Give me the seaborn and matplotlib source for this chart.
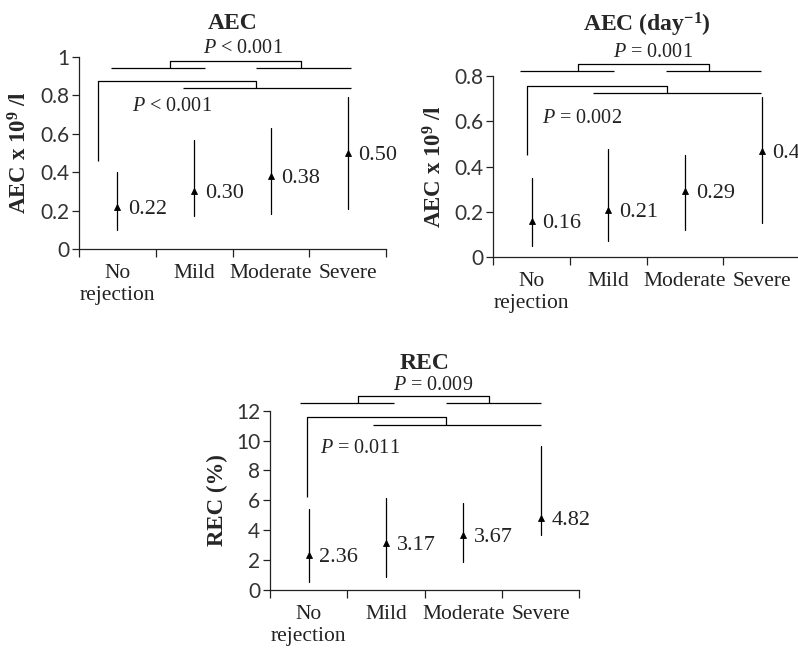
import numpy as np
import pandas as pd
import matplotlib
matplotlib.use("Agg")
import matplotlib.pyplot as plt
import seaborn as sns
from matplotlib.ticker import FixedLocator, FuncFormatter

# data: mean marker, lower and upper whisker per group
categories = ["No\nrejection", "Mild", "Moderate", "Severe"]

aec_mean = [0.22, 0.30, 0.38, 0.50]
aec_low = [0.10, 0.17, 0.18, 0.21]
aec_high = [0.40, 0.57, 0.63, 0.79]

aec_day_mean = [0.16, 0.21, 0.29, 0.47]
aec_day_low = [0.05, 0.07, 0.12, 0.15]
aec_day_high = [0.35, 0.48, 0.45, 0.71]

rec_mean = [2.36, 3.17, 3.67, 4.82]
rec_low = [0.56, 0.89, 1.90, 3.68]
rec_high = [5.42, 6.13, 5.82, 9.64]

p_top = ["$P$ < 0.001", "$P$ = 0.001", "$P$ = 0.009"]
p_mid = ["$P$ < 0.001", "$P$ = 0.002", "$P$ = 0.011"]

titles = ["AEC", r"AEC (day$^{\mathbf{-1}}$)", "REC"]
ylabels = [r"AEC x 10$^{\mathbf{9}}$ /l", r"AEC x 10$^{\mathbf{9}}$ /l", "REC (%)"]
ymax = [1.0, 0.8, 12]
ystep = [0.2, 0.2, 2]

sns.set_style("ticks")
plt.rcParams["mathtext.fontset"] = "custom"
plt.rcParams["mathtext.rm"] = "Liberation Serif"
plt.rcParams["mathtext.it"] = "Liberation Serif:italic"
plt.rcParams["mathtext.bf"] = "Liberation Serif:bold"
plt.rcParams["font.family"] = ["Liberation Serif", "DejaVu Serif"]

SERIF = ["Liberation Serif", "DejaVu Serif"]
SANS = ["Lato", "DejaVu Sans"]

# bracket layout (annotation geometry in data units), per panel
brackets = [
    dict(l=(-0.083, 1.14), r=(1.806, 3.04), yb=0.945, yt=0.979, c=(0.686, 2.39), pt=(1.64, 1.045),
         vx=-0.25, v0=0.458, v1=0.874, vr=1.806, hy=0.836, h=(0.855, 3.04), pm=(0.71, 0.743),
         pos=[79, 249, 386, 57], tpad=20),
    dict(l=(-0.152, 1.078), r=(1.748, 2.987), yb=0.824, yt=0.853, c=(0.608, 2.316), pt=(1.586, 0.906),
         vx=-0.06, v0=0.45, v1=0.756, vr=1.76, hy=0.725, h=(0.80, 2.987), pm=(0.653, 0.611),
         pos=[493.3, 257, 800, 76.3], tpad=32),
    dict(l=(-0.112, 1.108), r=(1.776, 3.0), yb=12.49, yt=12.96, c=(0.642, 2.336), pt=(1.612, 13.70),
         vx=-0.017, v0=6.25, v1=11.55, vr=1.77, hy=11.02, h=(0.836, 3.0), pm=(0.664, 9.46),
         pos=[270, 590, 579.3, 410.7], tpad=30),
]

series = [
    (aec_mean, aec_low, aec_high),
    (aec_day_mean, aec_day_low, aec_day_high),
    (rec_mean, rec_low, rec_high),
]

W, H = 798, 648
fig = plt.figure(figsize=(W / 100, H / 100), dpi=100)

lw = 0.9
for k, (mean, low, high) in enumerate(series):
    b = brackets[k]
    x0, y0, x1, y1 = b["pos"]
    ax = fig.add_axes([x0 / W, 1 - y0 / H, (x1 - x0) / W, (y0 - y1) / H])

    df = pd.DataFrame({
        "group": categories * 3,
        "value": list(low) + list(mean) + list(high),
    })
    sns.pointplot(data=df, x="group", y="value", order=categories, estimator="median",
                  errorbar=lambda v: (v.min(), v.max()), linestyle="none", marker="^",
                  markersize=4, markeredgewidth=0.6, color="black",
                  err_kws={"linewidth": lw}, ax=ax)

    for i, m in enumerate(mean):
        ax.text(i + 0.14, m, f"{m:.2f}", ha="left", va="center_baseline",
                fontsize=16, family=SERIF, color="#222222", clip_on=False)

    kw = dict(color="black", lw=lw, clip_on=False, solid_capstyle="butt")
    # top bracket: (No vs Mild) vs (Moderate vs Severe)
    ax.plot(b["l"], [b["yb"]] * 2, **kw)
    ax.plot(b["r"], [b["yb"]] * 2, **kw)
    ax.plot([b["c"][0], b["c"][0], b["c"][1], b["c"][1]],
            [b["yb"], b["yt"], b["yt"], b["yb"]], **kw)
    ax.text(b["pt"][0], b["pt"][1], p_top[k], ha="center", va="center",
            fontsize=14.5, color="#222222")
    # second bracket: No rejection vs rejection groups
    ax.plot([b["vx"], b["vx"], b["vr"], b["vr"]],
            [b["v0"], b["v1"], b["v1"], b["hy"]], **kw)
    ax.plot(b["h"], [b["hy"]] * 2, **kw)
    ax.text(b["pm"][0], b["pm"][1], p_mid[k], ha="center", va="center",
            fontsize=14.5, color="#222222")

    ax.set_xlim(-0.5, len(categories) - 0.5)
    ax.set_ylim(0, ymax[k])
    ax.yaxis.set_major_locator(FixedLocator(np.arange(0, ymax[k] + 1e-9, ystep[k])))
    ax.yaxis.set_major_formatter(FuncFormatter(lambda v, _: f"{v:g}"))
    ax.xaxis.set_minor_locator(FixedLocator(np.arange(-0.5, len(categories), 1.0)))
    ax.tick_params(axis="x", which="major", length=0, pad=11)
    ax.tick_params(axis="x", which="minor", length=6, width=lw, direction="out", color="#222222")
    ax.tick_params(axis="y", length=5, width=lw, pad=2, color="#222222")
    for lbl in ax.get_yticklabels():
        lbl.set_family(SANS)
        lbl.set_fontsize(15)
        lbl.set_color("#333333")
    for lbl in ax.get_xticklabels():
        lbl.set_family(SERIF)
        lbl.set_fontsize(15.5)
        lbl.set_color("#222222")
        lbl.set_linespacing(1.2)

    ax.set_xlabel("")
    ax.set_ylabel(ylabels[k], fontsize=16.5, fontweight="bold", family=SERIF, labelpad=6)
    ax.set_title(titles[k], fontsize=17, fontweight="bold", family=SERIF, pad=b["tpad"])
    sns.despine(ax=ax)
    for s in ("left", "bottom"):
        ax.spines[s].set_linewidth(lw)
        ax.spines[s].set_color("#222222")

fig.savefig("out.png", dpi=100)
